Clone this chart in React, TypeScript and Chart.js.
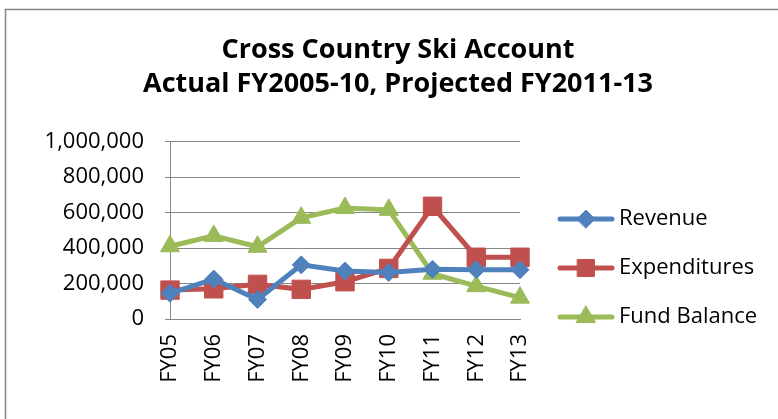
import React, { useEffect, useRef } from "react";
import { Chart, registerables } from "chart.js";
import { drawPoint } from "chart.js/helpers";

Chart.register(...registerables);

const categories = ["FY05", "FY06", "FY07", "FY08", "FY09", "FY10", "FY11", "FY12", "FY13"];
const revenue = [145000, 225000, 110000, 305000, 270000, 262000, 280000, 278000, 278000];
const expenditures = [163000, 170000, 195000, 167000, 210000, 285000, 635000, 348000, 348000];
const fundBalance = [410000, 468000, 407000, 570000, 625000, 615000, 255000, 185000, 120000];
const titleLines = ["Cross Country Ski Account", "Actual FY2005-10, Projected FY2011-13"];

const BLUE = "#4F81BD";
const RED = "#C0504D";
const GREEN = "#9BBB59";
const GRID = "#868686";
const FONT = "'Open Sans', sans-serif";

const frameAndLegend = {
  id: "frameAndLegend",
  beforeDraw(chart: any) {
    const ctx = chart.ctx;
    ctx.save();
    ctx.fillStyle = "#ffffff";
    ctx.fillRect(0, 0, chart.width, chart.height);
    ctx.strokeStyle = GRID;
    ctx.lineWidth = 1.5;
    ctx.strokeRect(5.5, 9.5, 2000, 2000);
    ctx.restore();
  },
  afterDraw(chart: any) {
    const ctx = chart.ctx;
    const x0 = 560;
    const x1 = 612;
    const textX = 619;
    const startY = 219;
    const gap = 49;
    ctx.save();
    chart.data.datasets.forEach((ds: any, i: number) => {
      const y = startY + i * gap;
      ctx.strokeStyle = ds.borderColor;
      ctx.lineWidth = ds.borderWidth;
      ctx.lineCap = "round";
      ctx.beginPath();
      ctx.moveTo(x0, y);
      ctx.lineTo(x1, y);
      ctx.stroke();
      ctx.fillStyle = ds.pointBackgroundColor;
      ctx.strokeStyle = ds.pointBorderColor;
      ctx.lineWidth = 1;
      drawPoint(ctx, { pointStyle: ds.pointStyle, radius: ds.legendRadius, rotation: 0, borderWidth: 1 }, (x0 + x1) / 2, y);
      ctx.fillStyle = "#000000";
      ctx.font = `22px ${FONT}`;
      ctx.textAlign = "left";
      ctx.textBaseline = "middle";
      ctx.fillText(ds.label, textX, y);
    });
    ctx.restore();
  },
};

export default function App() {
  const ref = useRef<HTMLCanvasElement | null>(null);
  useEffect(() => {
    if (!ref.current) return;
    const mk = (label: string, data: number[], color: string, style: string, r: number, lr: number) => ({
      label,
      data,
      borderColor: color,
      backgroundColor: color,
      pointBackgroundColor: color,
      pointBorderColor: color,
      borderWidth: 5,
      pointStyle: style,
      pointRadius: r,
      pointBorderWidth: 1,
      legendRadius: lr,
      tension: 0,
      yAxisID: "y",
    });
    const chart = new Chart(ref.current, {
      type: "line",
      data: {
        labels: categories,
        datasets: [
          mk("Revenue", revenue, BLUE, "rectRot", 9, 9),
          mk("Expenditures", expenditures, RED, "rect", 13, 12),
          mk("Fund Balance", fundBalance, GREEN, "triangle", 11, 11),
        ] as any,
      },
      options: {
        responsive: false,
        animation: false,
        devicePixelRatio: 1,
        layout: { padding: { left: 18, right: 0, top: 0, bottom: 0 } },
        plugins: {
          legend: { display: false },
          tooltip: { enabled: false },
          title: {
            display: true,
            text: titleLines,
            color: "#000000",
            font: { family: FONT, size: 27, weight: "bold", lineHeight: 33.5 / 27 },
            padding: { top: 33.75, bottom: 40.75 },
          },
        },
        scales: {
          x: {
            grid: { display: false, drawTicks: false },
            border: { display: true, color: GRID, width: 1 },
            ticks: {
              color: "#000000",
              font: { family: FONT, size: 22 },
              minRotation: 90,
              maxRotation: 90,
              padding: 15,
              autoSkip: false,
            },
            afterFit: (s: any) => {
              s.height = 100;
            },
          },
          y: {
            min: 0,
            max: 1000000,
            grid: { color: GRID, lineWidth: 1, tickLength: 5 },
            border: { display: true, color: GRID, width: 1 },
            ticks: {
              stepSize: 200000,
              color: "#000000",
              font: { family: FONT, size: 22 },
              padding: 21,
              callback: (v: any) => Number(v).toLocaleString("en-US"),
            },
            afterFit: (s: any) => {
              s.width = 152;
            },
          },
          legendSpace: {
            type: "linear",
            position: "right",
            display: true,
            grid: { display: false, drawTicks: false },
            border: { display: false },
            ticks: { display: false },
            afterFit: (s: any) => {
              s.width = 258;
            },
          },
        },
      } as any,
      plugins: [frameAndLegend],
    });
    return () => chart.destroy();
  }, []);
  return (
    <div style={{ position: "fixed", left: 0, top: 0, width: 778, height: 419, background: "#fff" }}>
      <canvas ref={ref} width={778} height={419} style={{ width: 778, height: 419, display: "block" }} />
    </div>
  );
}
